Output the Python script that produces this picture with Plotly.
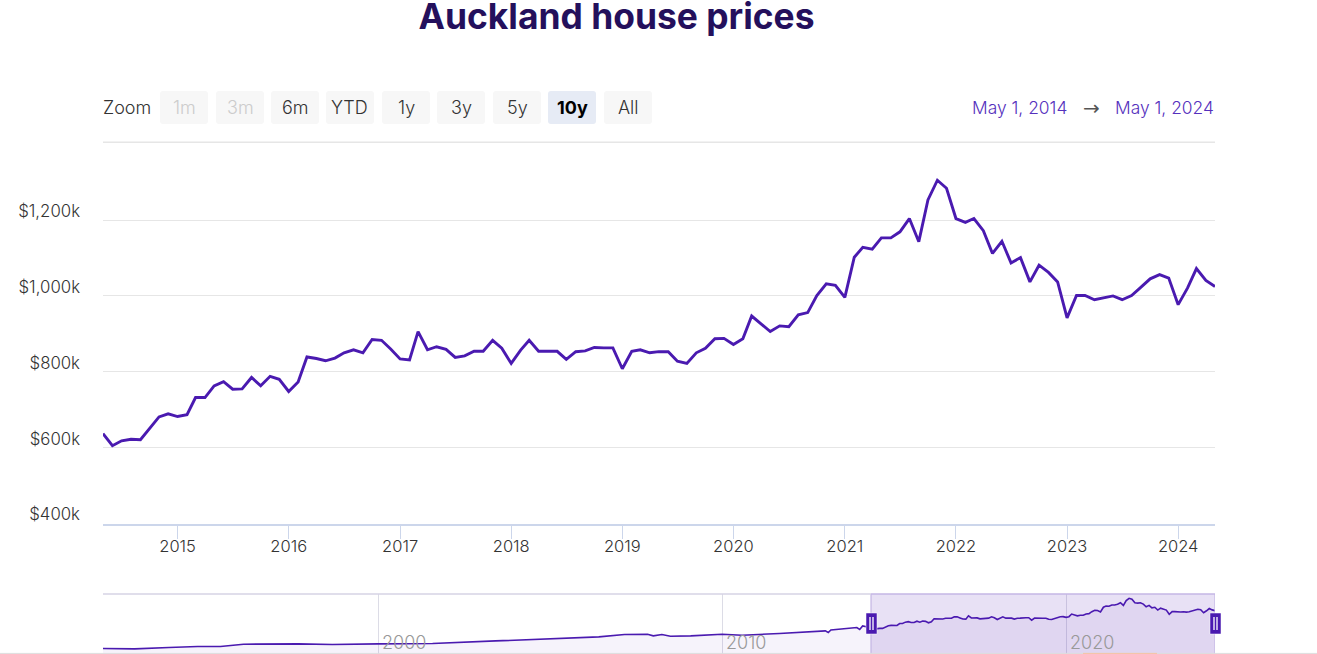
"""Auckland house prices, zoomed to the last ten years, with a navigator strip below"""

import pandas as pd
import plotly.graph_objs as go

# median price in $k, monthly from May 2014 to May 2024
prices = [
    637, 605, 618, 622, 621, 652, 681, 689,
    682, 687, 732, 732, 763, 774, 754, 755, 785, 763, 788, 780,
    748, 773, 839, 835, 829, 836, 850, 858, 850, 885, 883, 860,
    834, 831, 906, 858, 866, 859, 838, 842, 854, 854, 883, 862,
    822, 857, 883, 854, 854, 854, 833, 853, 855, 864, 863, 863,
    808, 854, 858, 850, 853, 853, 828, 822, 850, 862, 887, 888,
    872, 887, 947, 926, 906, 921, 919, 950, 956, 1001, 1032, 1028,
    996, 1102, 1128, 1123, 1153, 1153, 1169, 1204, 1143, 1253, 1305, 1284,
    1204, 1194, 1204, 1172, 1112, 1144, 1087, 1101, 1037, 1081, 1062, 1037,
    942, 1001, 1001, 990, 995, 1000, 990, 1001, 1023, 1045, 1056, 1047,
    977, 1021, 1072, 1041, 1025,
]
price_dates = pd.date_range("2014-05-01", periods=len(prices), freq="MS")

# older part of the series, only visible in the navigator
history_dates = [
    "1992-01-01", "1992-12-01", "1993-12-01", "1994-10-01", "1995-06-01", "1996-02-01",
    "1997-09-01", "1998-09-01", "2000-01-01", "2001-08-01", "2003-06-01", "2005-03-01",
    "2006-06-01", "2007-03-01", "2007-11-01", "2008-01-01", "2008-04-01", "2008-07-01",
    "2009-02-01", "2010-01-01", "2010-08-01", "2011-09-01", "2013-01-01", "2013-02-01",
    "2013-03-01", "2013-12-01", "2014-01-01", "2014-02-01",
]
history_prices = [
    165, 156, 188, 210, 210, 262,
    269, 256, 269, 278, 337, 392,
    428, 483, 489, 451, 483, 444,
    451, 489, 467, 505, 564, 528,
    587, 642, 596, 678,
]

y_ticks = [400, 600, 800, 1000, 1200]
y_labels = ["$400k", "$600k", "$800k", "$1,000k", "$1,200k"]
x_start, x_end = "2014-05-01", "2024-05-01"
navigator_labels = ["2000", "2010", "2020"]

zoom_buttons = ["1m", "3m", "6m", "YTD", "1y", "3y", "5y", "10y", "All"]
zoom_left = [160, 216, 271, 326, 382, 437, 493, 548, 604]

WIDTH, HEIGHT = 1317, 654
PURPLE = "#4a1ab0"
FONT = "Inter"


def px_x(x):
    return x / WIDTH


def px_y(y):
    return 1 - y / HEIGHT


def rounded_rect(x0, y0, x1, y1, r=3):
    """SVG path of a rounded rectangle, in paper coordinates"""
    rx, ry = r / WIDTH, r / HEIGHT
    a, b, c, d = px_x(x0), px_y(y0), px_x(x1), px_y(y1)
    return (
        f"M{a + rx},{b} L{c - rx},{b} Q{c},{b} {c},{b - ry} L{c},{d + ry} Q{c},{d} {c - rx},{d} "
        f"L{a + rx},{d} Q{a},{d} {a},{d + ry} L{a},{b - ry} Q{a},{b} {a + rx},{b} Z"
    )


fig = go.Figure()
fig.add_trace(go.Scatter(
    x=price_dates, y=prices, mode="lines", xaxis="x", yaxis="y",
    line=dict(color=PURPLE, width=2.9), hoverinfo="x+y",
))
fig.add_trace(go.Scatter(
    x=list(pd.to_datetime(history_dates)) + list(price_dates), y=history_prices + prices,
    mode="lines", xaxis="x2", yaxis="y2", fill="tozeroy", fillcolor="rgba(74,26,176,0.05)",
    line=dict(color=PURPLE, width=1.6), hoverinfo="skip",
))

shapes = []
annotations = []

# top border of the plot area
shapes.append(dict(type="line", xref="x domain", yref="y domain", x0=0, x1=1, y0=1, y1=1,
                   line=dict(color="#e6e6e6", width=1.5)))

# range buttons
annotations.append(dict(text="Zoom", xref="paper", yref="paper", x=px_x(101), y=px_y(107.5),
                        xanchor="left", yanchor="middle", showarrow=False,
                        font=dict(family=FONT, size=18, color="#333333", weight=300)))
for label, left in zip(zoom_buttons, zoom_left):
    active = label == "10y"
    shapes.append(dict(type="path", xref="paper", yref="paper", path=rounded_rect(left, 91, left + 48, 124),
                       fillcolor="#e6ebf5" if active else "#f7f7f7", line=dict(width=0)))
    color = "#000000" if active else "#cccccc" if label in ("1m", "3m") else "#333333"
    annotations.append(dict(text=label, xref="paper", yref="paper", x=px_x(left + 24), y=px_y(107.5),
                            xanchor="center", yanchor="middle", showarrow=False,
                            font=dict(family=FONT, size=18, color=color, weight=700 if active else 300)))

# selected dates, top right
annotations.append(dict(text="May 1, 2014", xref="paper", yref="paper", x=px_x(1069), y=px_y(107.5),
                        xanchor="right", yanchor="middle", showarrow=False,
                        font=dict(family=FONT, size=17.4, color="#5530bd", weight=300)))
annotations.append(dict(text="→", xref="paper", yref="paper", x=px_x(1091), y=px_y(107.5),
                        xanchor="center", yanchor="middle", showarrow=False,
                        font=dict(family="DejaVu Sans", size=20, color="#555555")))
annotations.append(dict(text="May 1, 2024", xref="paper", yref="paper", x=px_x(1216), y=px_y(107.5),
                        xanchor="right", yanchor="middle", showarrow=False,
                        font=dict(family=FONT, size=17.4, color="#5530bd", weight=300)))

# navigator: decade labels, selection mask and handles
for label in navigator_labels:
    annotations.append(dict(text=label, xref="x2", yref="paper", x=f"{label}-01-01", y=px_y(642),
                            xanchor="left", yanchor="middle", xshift=2, showarrow=False,
                            font=dict(family=FONT, size=18, color="#999999", weight=300)))
shapes.append(dict(type="rect", xref="x2", yref="y2 domain", x0=x_start, x1=x_end, y0=0, y1=1,
                   fillcolor="rgba(74,26,176,0.13)", line=dict(width=0)))
for edge in (x_start, x_end):
    shapes.append(dict(type="line", xref="x2", yref="y2 domain", x0=edge, x1=edge, y0=0, y1=1,
                       line=dict(color="#c4b6e4", width=1.2)))
shapes.append(dict(type="line", xref="x2", yref="y2 domain", x0=x_start, x1=x_end, y0=1, y1=1,
                   line=dict(color="#c4b6e4", width=1.5)))
for left in (866, 1210):
    shapes.append(dict(type="rect", xref="paper", x0=px_x(left), x1=px_x(left + 11),
                       yref="paper", y0=px_y(634), y1=px_y(613),
                       fillcolor=PURPLE, line=dict(color="#ffffff", width=0.5)))
    for offset in (4, 7):
        shapes.append(dict(type="line", xref="paper", x0=px_x(left + offset), x1=px_x(left + offset),
                           yref="paper", y0=px_y(630), y1=px_y(617),
                           line=dict(color="#ffffff", width=1.3)))

# page edge below the chart
shapes.append(dict(type="line", xref="paper", yref="paper", x0=0, x1=1, y0=px_y(653.4), y1=px_y(653.4),
                   line=dict(color="#dddddd", width=1)))
shapes.append(dict(type="line", xref="paper", yref="paper", x0=px_x(1083), x1=px_x(1157),
                   y0=px_y(653.4), y1=px_y(653.4), line=dict(color="#f5c2a4", width=1)))

fig.update_layout(
    width=WIDTH,
    height=HEIGHT,
    autosize=False,
    margin=dict(l=0, r=0, t=0, b=0),
    paper_bgcolor="#ffffff",
    plot_bgcolor="#ffffff",
    showlegend=False,
    font=dict(family=FONT, size=16, color="#333333"),
    title=dict(text="<b>Auckland house prices</b>", x=px_x(616.5), y=px_y(17), xref="paper", yref="paper",
               xanchor="center", yanchor="middle", font=dict(family=FONT, size=35.4, color="#24105c")),
    xaxis=dict(
        domain=[px_x(103), px_x(1215)], anchor="y", range=[x_start, x_end], type="date", automargin=False,
        dtick="M12", tick0="2015-01-01", tickformat="%Y", showgrid=False, zeroline=False,
        showline=True, linecolor="#ccd6eb", linewidth=1.5,
        ticks="outside", ticklen=14, tickcolor="#ccd6eb", tickwidth=1,
        tickfont=dict(family=FONT, size=16.5, color="#333333", weight=300),
        ticklabelstandoff=-7,
    ),
    yaxis=dict(
        domain=[px_y(523.5), px_y(142.3)], anchor="x", range=[400, 1405], automargin=False,
        tickvals=y_ticks, ticktext=y_labels, showgrid=True, gridcolor="#e6e6e6", gridwidth=1.3,
        zeroline=False, showline=False, ticks="",
        tickfont=dict(family=FONT, size=16.8, color="#333333", weight=300),
        ticklabelstandoff=22, ticklabelshift=-9,
    ),
    xaxis2=dict(
        domain=[px_x(103), px_x(1215)], anchor="y2", range=["1992-01-01", x_end], type="date", automargin=False,
        dtick="M120", tick0="2000-01-01", showgrid=True, gridcolor="#dcdce6", gridwidth=1,
        showticklabels=False, zeroline=False, showline=False, ticks="",
    ),
    yaxis2=dict(
        domain=[0, px_y(594)], anchor="x2", range=[40, 1402], automargin=False,
        showgrid=False, showticklabels=False, zeroline=False, showline=False, ticks="",
    ),
    shapes=shapes,
    annotations=annotations,
)
# grey line across the top of the navigator, left of the selection
fig.add_shape(type="line", xref="x2", yref="y2 domain", x0="1992-01-01", x1=x_start, y0=1, y1=1,
              line=dict(color="#d6d3e4", width=1.5))

# the default page margin would push the figure off the window
fig.write_html("out.html", config=dict(displayModeBar=False),
               post_script="document.body.style.margin = '0';")
